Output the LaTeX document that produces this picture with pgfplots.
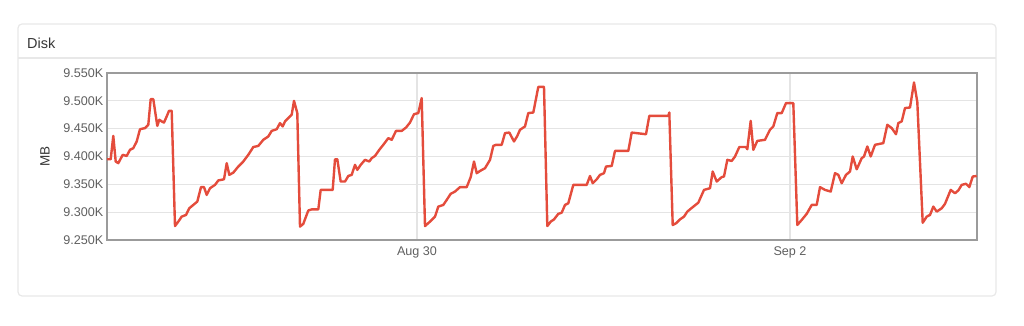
\documentclass[border=0pt]{standalone}
\usepackage{fontspec}
\setmainfont{Liberation Sans}
\usepackage{pgfplots}
\pgfplotsset{compat=1.18}
\definecolor{linered}{RGB}{228,76,60}
\definecolor{panelgray}{RGB}{232,232,232}
\definecolor{gridgray}{RGB}{228,228,228}
\definecolor{framegray}{RGB}{155,155,155}
\definecolor{labelgray}{RGB}{95,95,95}
\definecolor{titlegray}{RGB}{55,55,55}
\begin{document}
\begin{tikzpicture}[x=1pt,y=1pt]
\path[use as bounding box] (0,0) rectangle (1024,326);
\draw[panelgray, line width=1.2pt, rounded corners=4pt] (18,30) rectangle (996,302);
\draw[panelgray, line width=1.2pt] (18,268) -- (996,268);
\node[anchor=west, inner sep=0pt, font=\fontsize{14.5}{17}\selectfont, text=titlegray] at (27,283) {Disk};
\begin{axis}[
  at={(107pt,253pt)}, anchor=north west,
  width=870pt, height=167pt, scale only axis,
  xmin=107, xmax=977, ymin=9250, ymax=9550,
  xtick={417,790}, xticklabels={Aug 30,Sep 2},
  ytick={9250,9300,9350,9400,9450,9500,9550},
  yticklabels={9.250K,9.300K,9.350K,9.400K,9.450K,9.500K,9.550K},
  major tick length=0pt,
  grid=major,
  major grid style={gridgray, line width=1.2pt},
  axis line style={framegray, line width=1.6pt},
  tick label style={font=\fontsize{12.6}{15}\selectfont, text=labelgray},
  yticklabel style={anchor=east, inner sep=0pt, xshift=-3.5pt},
  xticklabel style={anchor=north, inner sep=0pt, yshift=-7pt},
  ylabel={MB},
  every axis y label/.style={at={(axis description cs:0,0.5)}, xshift=-62pt, rotate=90, anchor=center, font=\fontsize{13.5}{16}\selectfont, text=titlegray},
]
\addplot[linered, line width=2.4pt, line join=round, no markers] coordinates {
(107,9395) (110.7,9395) (113.3,9437) (115.7,9391) (118.3,9388) (122.7,9403) (126.7,9401) (130,9412) (133.3,9415) (136.7,9427) (140,9449) (145,9451) (148.3,9457) (150.7,9503) (153.3,9503) (157.3,9455) (159.3,9466) (161.7,9463) (164,9461) (166.7,9472) (169,9482) (171.7,9482)
(175,9275) (178.3,9283) (181.7,9292) (186,9295) (189.3,9307) (193.3,9313) (197.3,9319) (201,9345) (204,9345) (206.7,9331) (210,9343) (215,9349) (218.3,9357) (224,9359) (226.7,9388) (229.3,9367) (233.3,9371) (238.3,9382) (243.3,9391) (248.3,9403) (253.3,9417) (258.3,9419) (263.3,9430) (268.3,9436) (271.7,9446) (276.7,9449) (280,9460) (282.7,9454) (285,9463) (288.3,9469) (291.7,9475) (294,9500) (297.3,9478)
(300,9274) (303.3,9279) (308.3,9303) (311.7,9305) (318.3,9305) (320.7,9340) (332.7,9340) (335,9395) (337.3,9395) (340.7,9355) (345,9355) (348.3,9365) (351.7,9367) (355,9385) (357.3,9376) (360.7,9385) (365,9394) (369.3,9391) (371.7,9397) (375,9401) (379.3,9412) (383.3,9421) (388.3,9433) (391.7,9430) (396,9446) (401.7,9446) (406,9452) (410,9461) (414,9476) (418.3,9478) (421.7,9505)
(425,9275) (430,9283) (435,9292) (438.3,9310) (443.3,9313) (446.7,9322) (450.7,9333) (455,9337) (460,9345) (466.7,9345) (470.7,9363) (474,9391) (476.7,9370) (480,9374) (485,9379) (490,9394) (493.3,9419) (496,9421) (501.7,9421) (505,9442) (509.3,9443) (514,9427) (517.3,9437) (520,9448) (525,9454) (528.3,9478) (533.3,9479) (538.3,9525) (544,9525)
(547.3,9275) (550.7,9283) (554,9287) (558.3,9297) (561.7,9299) (565,9313) (568.3,9316) (573.3,9349) (586.7,9349) (590,9365) (592.7,9352) (596.7,9359) (600,9367) (604,9370) (606,9382) (611.7,9383) (615,9410) (628.3,9410) (631.7,9443) (646,9440) (649.3,9473) (668.3,9473) (669.3,9479)
(672.7,9277) (676,9280) (680,9287) (684,9292) (687.3,9301) (692.7,9309) (698.3,9317) (704,9340) (710,9343) (712.7,9373) (716.7,9355) (721.7,9363) (724,9364) (727.3,9394) (731.7,9392) (735,9400) (739.3,9417) (746,9417) (747.3,9413) (750.7,9464) (753.3,9412) (757.3,9428) (765,9430) (770,9448) (773.3,9454) (777.3,9478) (781.7,9478) (786,9496) (793.3,9496)
(797.3,9277) (801.7,9286) (806.7,9297) (811.7,9313) (816.7,9313) (820,9345) (825,9340) (830.7,9337) (835,9370) (838.3,9367) (841.7,9352) (846,9367) (850,9373) (852.7,9400) (856.7,9377) (861.7,9397) (864,9400) (867.3,9418) (870.7,9400) (875,9421) (883.3,9424) (887.3,9457) (891.7,9451) (896,9440) (898.3,9460) (901.7,9463) (905,9487) (910,9488) (914,9533) (917.3,9498)
(922.7,9281) (926.7,9292) (930,9295) (933.3,9310) (936.7,9301) (941.7,9307) (945,9315) (950.7,9340) (955,9334) (958.3,9339) (961.7,9349) (966,9351) (969.3,9345) (972.7,9364) (976.7,9365)
};
\end{axis}
\end{tikzpicture}
\end{document}
